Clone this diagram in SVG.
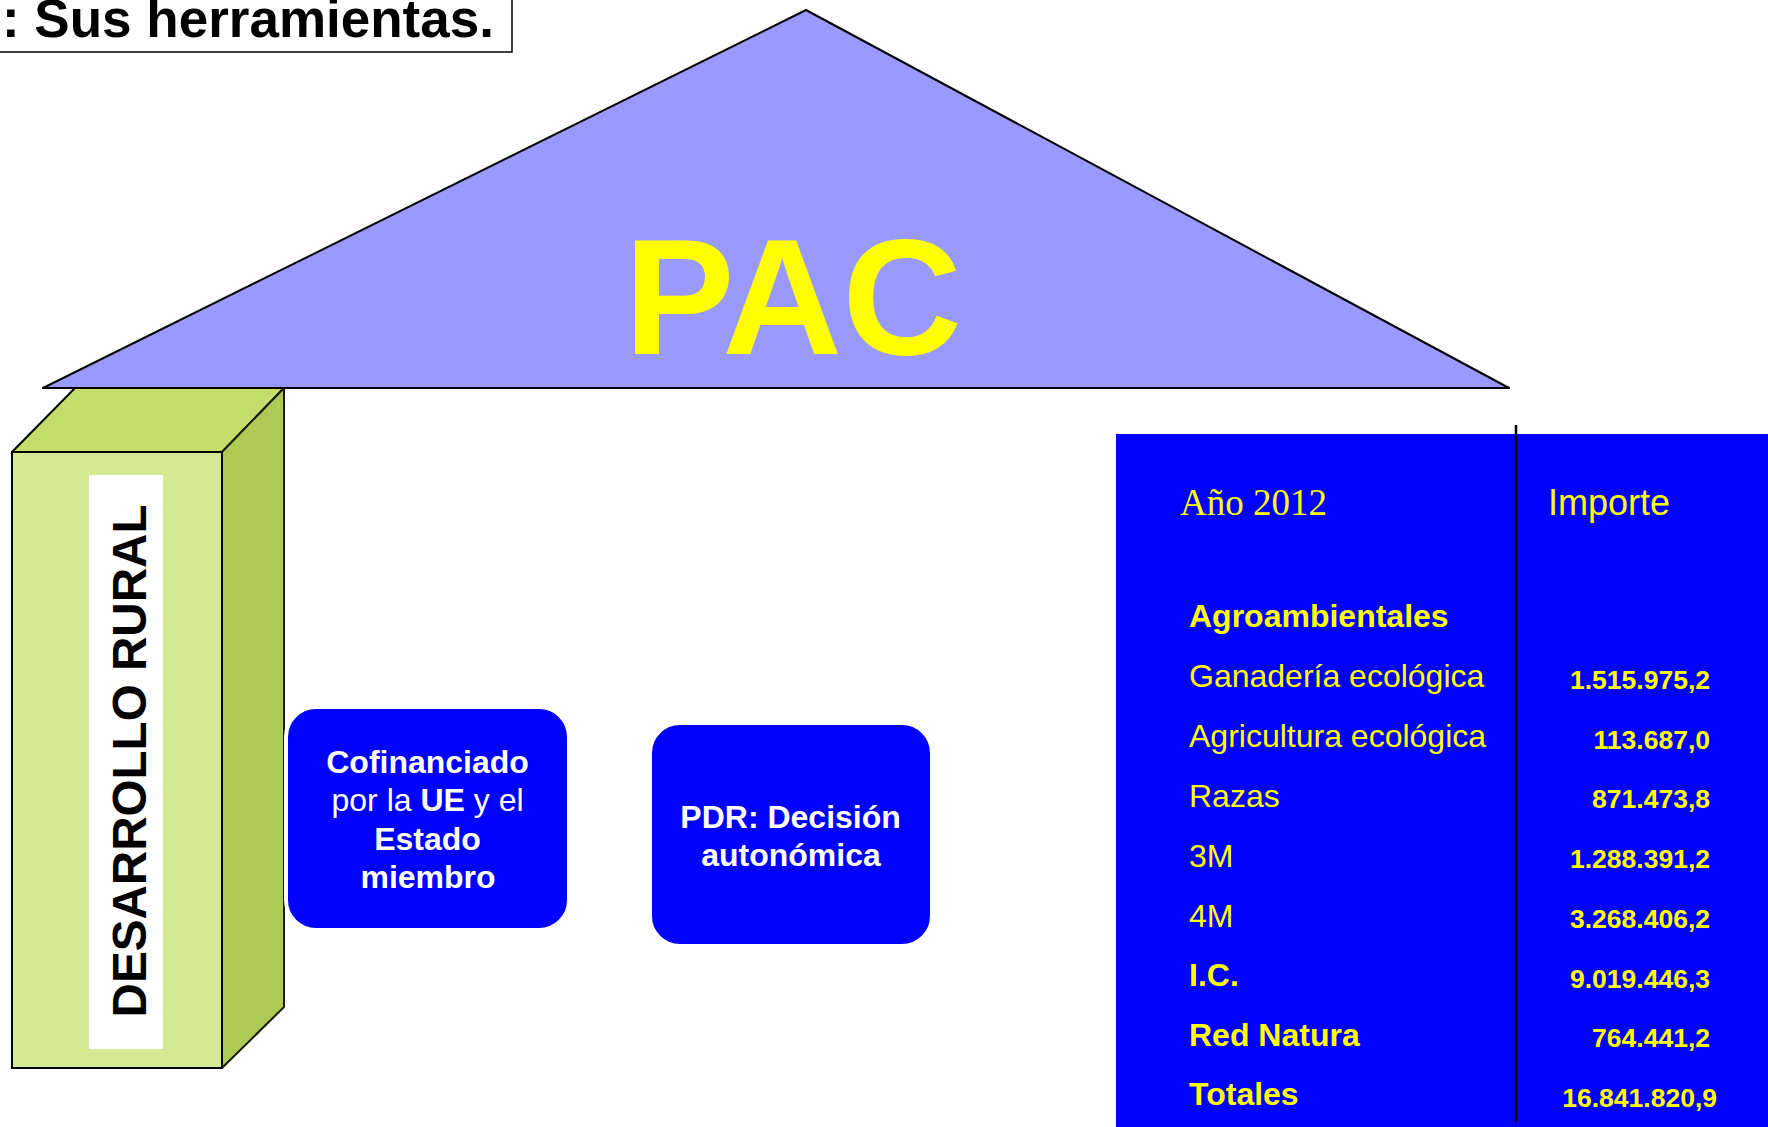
<svg xmlns="http://www.w3.org/2000/svg" width="1768" height="1127" viewBox="0 0 1768 1127">
<style>
.sans{font-family:"Liberation Sans",Arial,sans-serif}
.b{font-weight:bold}
.y{fill:#FFFF00}
.w{fill:#FFFFFF}
.lbl{font-family:"Liberation Sans",Arial,sans-serif;font-size:32px;fill:#FFFF00}
.num{font-family:"Liberation Sans",Arial,sans-serif;font-size:26.5px;font-weight:bold;fill:#FFFF00;text-anchor:end}
.box{fill:#0000FF;stroke:#FFFFFF;stroke-width:4}
</style>
<rect width="1768" height="1127" fill="#FFFFFF"/>
<g id="title">
<rect x="-3" y="-3" width="515" height="55" fill="#FFFFFF" stroke="#000000" stroke-width="1.5"/>
<text x="2" y="37" class="sans b" font-size="53" fill="#000000">: Sus herramientas.</text>
</g>
<g id="pac">
<polygon points="806,10 1509,388 43,388" fill="#9999FF" stroke="#000000" stroke-width="2" stroke-linejoin="round"/>
<text x="793" y="354" class="sans b y" font-size="166" text-anchor="middle">PAC</text>
</g>
<g id="desarrollo-rural">
<polygon points="12,452 75,388 284,388 222,452" fill="#C5DE6B" stroke="#000000" stroke-width="2" stroke-linejoin="round"/>
<polygon points="222,452 284,388 284,1007 222,1068" fill="#AECA55" stroke="#1a1a00" stroke-width="2" stroke-linejoin="round"/>
<rect x="12" y="452" width="210" height="616" fill="#D4E994" stroke="#000000" stroke-width="2"/>
<rect x="89" y="475" width="74" height="574" fill="#FFFFFF"/>
<text x="146" y="761" class="sans b" font-size="47.6" fill="#000000" text-anchor="middle" transform="rotate(-90 146 761)">DESARROLLO RURAL</text>
</g>
<g id="cofinanciado">
<rect x="286" y="707" width="283" height="223" rx="30" class="box"/>
<text class="sans w" font-size="32" text-anchor="middle">
<tspan x="432" y="773" class="b">Cofinanciado</tspan>
<tspan x="432" y="811">por la <tspan class="b">UE</tspan> y el</tspan>
<tspan x="432" y="850" class="b">Estado</tspan>
<tspan x="428" y="888" class="b">miembro</tspan>
</text>
</g>
<g id="pdr">
<rect x="650" y="723" width="282" height="223" rx="30" class="box"/>
<text class="sans b w" font-size="32" text-anchor="middle">
<tspan x="795" y="828">PDR: Decisión</tspan>
<tspan x="791" y="866">autonómica</tspan>
</text>
</g>
<g id="tabla">
<rect x="1116" y="434" width="660" height="700" fill="#0000FF"/>
<line x1="1516" y1="425" x2="1516" y2="1122" stroke="#000000" stroke-width="2.5"/>
<text x="1180" y="515" font-family="'Liberation Serif','Times New Roman',serif" font-size="37" class="y">Año 2012</text>
<text x="1548" y="515" class="sans y" font-size="36">Importe</text>
<text x="1189" y="627" class="lbl b">Agroambientales</text>
<text x="1189" y="687" class="lbl">Ganadería ecológica</text>
<text x="1189" y="747" class="lbl">Agricultura ecológica</text>
<text x="1189" y="807" class="lbl">Razas</text>
<text x="1189" y="867" class="lbl">3M</text>
<text x="1189" y="927" class="lbl">4M</text>
<text x="1189" y="986" class="lbl b">I.C.</text>
<text x="1189" y="1046" class="lbl b">Red Natura</text>
<text x="1189" y="1105" class="lbl b">Totales</text>
<text x="1710" y="689" class="num">1.515.975,2</text>
<text x="1710" y="749" class="num">113.687,0</text>
<text x="1710" y="808" class="num">871.473,8</text>
<text x="1710" y="868" class="num">1.288.391,2</text>
<text x="1710" y="928" class="num">3.268.406,2</text>
<text x="1710" y="988" class="num">9.019.446,3</text>
<text x="1710" y="1047" class="num">764.441,2</text>
<text x="1717" y="1107" class="num">16.841.820,9</text>
</g>
<g id="connectors"></g>
</svg>
